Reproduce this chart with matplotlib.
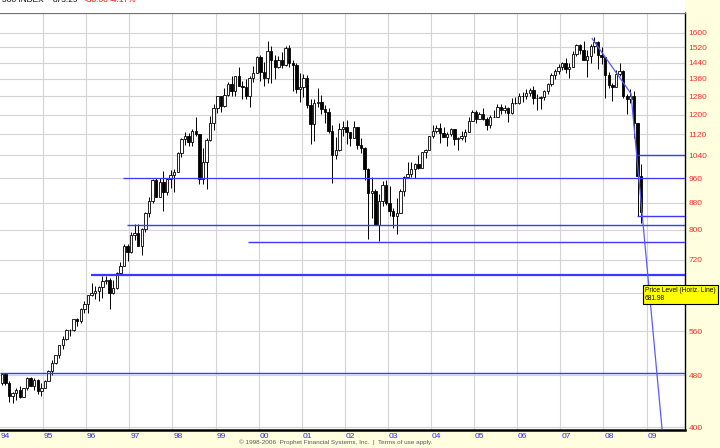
import matplotlib
matplotlib.use("Agg")
import matplotlib.pyplot as plt
from matplotlib.patches import Rectangle
from matplotlib.ticker import FixedLocator, NullLocator
import pandas as pd

# ---------------- data (monthly S&P 500 candles, Jan 1994 - Nov 2008) -------------
months = pd.date_range("1994-01-01", "2008-11-01", freq="MS")

opens = [
    466.5, 481.6, 467.1, 445.8, 450.9, 456.5, 444.3, 458.3, 475.5, 462.7, 472.4, 453.7,
    459.3, 470.4, 487.4, 500.7, 514.7, 533.4, 544.8, 562.1, 561.9, 584.4, 581.5, 605.4,
    615.9, 636.0, 640.4, 645.5, 654.2, 669.1, 670.6, 640.0, 652.0, 687.3, 705.3, 757.0,
    740.7, 786.2, 790.8, 757.1, 801.3, 848.3, 885.1, 954.3, 899.5, 947.3, 914.6, 955.4,
    970.4, 980.3, 1049.3, 1101.8, 1111.8, 1090.8, 1133.8, 1120.7, 957.3, 1017.0, 1098.7, 1163.6,
    1229.2, 1279.6, 1238.3, 1286.4, 1335.2, 1301.8, 1372.7, 1328.7, 1320.4, 1282.7, 1362.9, 1388.9,
    1469.3, 1394.5, 1366.4, 1498.6, 1452.4, 1420.6, 1454.6, 1430.8, 1517.7, 1436.5, 1429.4, 1315.0,
    1320.3, 1366.0, 1239.9, 1160.3, 1249.5, 1255.8, 1224.4, 1211.2, 1133.6, 1040.9, 1059.8, 1139.5,
    1148.1, 1130.2, 1106.7, 1147.4, 1076.9, 1067.1, 989.8, 911.6, 916.1, 815.3, 885.8, 936.3,
    879.8, 855.7, 841.2, 848.2, 916.9, 963.6, 974.5, 990.3, 1008.0, 996.0, 1050.7, 1058.2,
    1111.9, 1131.1, 1144.9, 1126.2, 1107.3, 1120.7, 1140.8, 1101.7, 1104.2, 1114.6, 1130.2, 1173.8,
    1211.9, 1181.3, 1203.6, 1180.6, 1156.9, 1191.5, 1191.3, 1234.2, 1220.3, 1228.8, 1207.0, 1249.5,
    1248.3, 1280.1, 1280.7, 1294.8, 1310.6, 1270.1, 1270.2, 1276.7, 1303.8, 1335.9, 1377.9, 1400.6,
    1418.3, 1438.2, 1406.8, 1420.9, 1482.4, 1530.6, 1503.4, 1455.3, 1474.0, 1526.8, 1549.4, 1481.1,
    1468.4, 1378.6, 1330.6, 1322.7, 1385.6, 1400.4, 1280.0, 1267.4, 1282.8, 1166.4, 968.7,
]
highs = [
    482.9, 482.0, 471.1, 453.1, 459.3, 462.1, 459.3, 477.6, 476.5, 474.8, 474.0, 466.4,
    472.2, 489.2, 507.0, 514.5, 533.4, 551.1, 564.0, 565.0, 586.0, 587.0, 608.0, 623.0,
    636.2, 664.2, 656.0, 656.9, 680.0, 680.3, 675.9, 670.7, 690.9, 714.1, 762.1, 761.8,
    794.7, 817.7, 816.3, 805.0, 851.9, 899.0, 957.7, 961.0, 960.0, 983.1, 961.0, 986.3,
    992.7, 1051.0, 1105.7, 1130.5, 1123.0, 1141.0, 1190.6, 1121.0, 1066.1, 1103.8, 1193.0, 1244.9,
    1280.0, 1281.0, 1316.6, 1346.1, 1375.9, 1375.0, 1420.3, 1351.0, 1358.0, 1373.0, 1424.0, 1473.0,
    1478.0, 1444.6, 1553.1, 1527.2, 1481.5, 1474.6, 1495.5, 1525.2, 1530.1, 1454.8, 1438.5, 1389.1,
    1383.4, 1376.9, 1267.4, 1269.3, 1315.9, 1286.6, 1239.8, 1226.3, 1155.4, 1110.6, 1163.4, 1173.6,
    1176.6, 1130.2, 1173.9, 1147.8, 1106.6, 1070.0, 994.5, 965.0, 924.0, 907.4, 951.6, 954.3,
    935.1, 864.6, 895.9, 924.2, 965.4, 1015.3, 1015.4, 1011.0, 1040.3, 1053.8, 1063.7, 1112.6,
    1155.4, 1158.9, 1163.2, 1150.6, 1127.7, 1146.3, 1140.8, 1109.7, 1131.5, 1142.1, 1188.5, 1217.9,
    1217.8, 1212.4, 1229.1, 1191.9, 1199.6, 1219.6, 1245.2, 1245.9, 1243.1, 1233.3, 1270.6, 1275.8,
    1294.9, 1297.6, 1310.9, 1318.2, 1326.7, 1290.7, 1280.4, 1306.7, 1340.3, 1389.5, 1407.9, 1431.8,
    1441.6, 1461.6, 1438.9, 1498.0, 1535.6, 1540.6, 1555.9, 1503.9, 1538.7, 1576.1, 1552.8, 1523.6,
    1471.8, 1396.0, 1341.5, 1404.6, 1440.2, 1404.1, 1292.2, 1313.2, 1303.0, 1167.0, 1007.5,
]
lows = [
    464.3, 464.3, 436.2, 435.9, 439.8, 442.9, 444.2, 456.0, 461.5, 455.3, 449.1, 445.5,
    459.1, 469.8, 479.7, 499.0, 510.0, 526.0, 543.0, 552.0, 560.0, 570.0, 577.0, 597.0,
    597.3, 633.7, 627.6, 624.0, 630.0, 662.0, 605.9, 639.0, 649.0, 684.0, 703.8, 716.7,
    737.0, 773.0, 756.0, 733.5, 793.2, 836.0, 881.0, 897.0, 899.0, 855.3, 903.0, 926.0,
    912.8, 979.0, 1032.0, 1076.7, 1074.0, 1074.0, 1114.0, 939.9, 939.9, 923.3, 1093.0, 1136.9,
    1205.5, 1211.7, 1234.0, 1282.8, 1281.4, 1279.0, 1328.7, 1268.0, 1268.4, 1233.7, 1346.0, 1387.4,
    1350.1, 1325.1, 1339.4, 1339.4, 1361.1, 1416.0, 1413.9, 1421.0, 1419.4, 1305.8, 1294.9, 1254.1,
    1274.6, 1228.3, 1081.2, 1091.9, 1232.0, 1203.0, 1165.5, 1124.9, 944.8, 1026.8, 1054.3, 1114.5,
    1081.7, 1074.4, 1106.7, 1063.5, 1048.0, 952.9, 775.7, 833.4, 815.3, 768.6, 868.9, 872.1,
    840.3, 806.3, 788.9, 847.9, 902.8, 963.6, 962.1, 960.8, 990.4, 996.0, 1031.2, 1058.2,
    1105.1, 1124.4, 1087.2, 1107.2, 1076.3, 1113.3, 1078.8, 1060.7, 1099.2, 1090.2, 1127.6, 1173.8,
    1163.8, 1180.0, 1176.9, 1136.2, 1146.2, 1188.3, 1191.3, 1201.1, 1205.4, 1168.2, 1201.1, 1246.6,
    1245.7, 1253.6, 1268.4, 1280.7, 1245.3, 1219.3, 1224.5, 1261.3, 1290.9, 1327.1, 1360.0, 1385.9,
    1403.9, 1389.4, 1363.8, 1416.4, 1476.7, 1484.2, 1454.3, 1370.6, 1439.3, 1489.6, 1406.1, 1435.7,
    1270.1, 1316.8, 1256.9, 1322.7, 1373.1, 1272.0, 1200.4, 1248.6, 1106.4, 839.8, 818.7,
]
closes = [
    481.6, 467.1, 445.8, 450.9, 456.5, 444.3, 458.3, 475.5, 462.7, 472.4, 453.7, 459.3,
    470.4, 487.4, 500.7, 514.7, 533.4, 544.8, 562.1, 561.9, 584.4, 581.5, 605.4, 615.9,
    636.0, 640.4, 645.5, 654.2, 669.1, 670.6, 640.0, 652.0, 687.3, 705.3, 757.0, 740.7,
    786.2, 790.8, 757.1, 801.3, 848.3, 885.1, 954.3, 899.5, 947.3, 914.6, 955.4, 970.4,
    980.3, 1049.3, 1101.8, 1111.8, 1090.8, 1133.8, 1120.7, 957.3, 1017.0, 1098.7, 1163.6, 1229.2,
    1279.6, 1238.3, 1286.4, 1335.2, 1301.8, 1372.7, 1328.7, 1320.4, 1282.7, 1362.9, 1388.9, 1469.3,
    1394.5, 1366.4, 1498.6, 1452.4, 1420.6, 1454.6, 1430.8, 1517.7, 1436.5, 1429.4, 1315.0, 1320.3,
    1366.0, 1239.9, 1160.3, 1249.5, 1255.8, 1224.4, 1211.2, 1133.6, 1040.9, 1059.8, 1139.5, 1148.1,
    1130.2, 1106.7, 1147.4, 1076.9, 1067.1, 989.8, 911.6, 916.1, 815.3, 885.8, 936.3, 879.8,
    855.7, 841.2, 848.2, 916.9, 963.6, 974.5, 990.3, 1008.0, 996.0, 1050.7, 1058.2, 1111.9,
    1131.1, 1144.9, 1126.2, 1107.3, 1120.7, 1140.8, 1101.7, 1104.2, 1114.6, 1130.2, 1173.8, 1211.9,
    1181.3, 1203.6, 1180.6, 1156.9, 1191.5, 1191.3, 1234.2, 1220.3, 1228.8, 1207.0, 1249.5, 1248.3,
    1280.1, 1280.7, 1294.8, 1310.6, 1270.1, 1270.2, 1276.7, 1303.8, 1335.9, 1377.9, 1400.6, 1418.3,
    1438.2, 1406.8, 1420.9, 1482.4, 1530.6, 1503.4, 1455.3, 1474.0, 1526.8, 1549.4, 1481.1, 1468.4,
    1378.6, 1330.6, 1322.7, 1385.6, 1400.4, 1280.0, 1267.4, 1282.8, 1166.4, 968.7, 852.3,
]

# horizontal price-level lines: (start year, level)
hline_starts = [1996.85, 2008.78, 2008.78, 1996.95, 1999.75, 1996.11, 1994.0]
hline_levels = [960.0, 1040.0, 840.0, 815.0, 768.0, 681.98, 484.0]
hline_widths = [0.9, 1.0, 1.0, 1.0, 1.0, 1.6, 1.0]

# trend line vertices (year, price)
trend_x = [2007.74, 2008.64, 2009.36]
trend_y = [1567.0, 1292.0, 398.0]

y_ticks = [400, 480, 560, 640, 720, 800, 880, 960, 1040, 1120, 1200, 1280, 1360, 1440, 1520, 1600]
y_labels = ["400", "480", "560", "", "720", "800", "880", "960", "1040", "1120", "1200",
            "1280", "1360", "1440", "1520", "1600"]
x_years = list(range(1994, 2010))
x_labels = ["94", "95", "96", "97", "98", "99", "00", "01", "02", "03", "04", "05", "06", "07", "08", "09"]

header_black = ["S&P 500 INDEX", "873.29"]
header_red = ["-38.00", "-4.17%"]

# ---------------- figure ----------------
W, H = 720, 448
fig = plt.figure(figsize=(W / 100, H / 100), dpi=100, facecolor="#ffffe0")
plt.rcParams["font.family"] = ["Liberation Sans", "DejaVu Sans"]

ax_left, ax_right, ax_top, ax_bottom = 0, 685, 13, 430
ax = fig.add_axes([ax_left / W, 1 - ax_bottom / H, (ax_right - ax_left) / W, (ax_bottom - ax_top) / H])
ax.set_facecolor("white")

# white header strip with the (mostly cut-off) quote line
fig.patches.append(Rectangle((0, 1 - ax_top / H), ax_right / W, ax_top / H,
                             transform=fig.transFigure, facecolor="white", edgecolor="none", zorder=0))
hy = 1 - 2.5 / H
fig.text(44 / W, hy, header_black[0], fontsize=6, color="black", va="baseline", ha="right")
fig.text(53 / W, hy, header_black[1], fontsize=6, color="black", va="baseline", ha="left")
fig.text(85 / W, hy, header_red[0], fontsize=6, color="red", va="baseline", ha="left")
fig.text(110 / W, hy, header_red[1], fontsize=6, color="red", va="baseline", ha="left")

ax.set_yscale("log")
ax.set_ylim(396, 1715)
ax.set_xlim(1994.0, 1994 + 685 / 43.1)

# grid
for yv in y_ticks:
    ax.axhline(yv, color="#d4d4d4", lw=0.8, zorder=0)
for xv in x_years[1:]:
    ax.axvline(xv, color="#d4d4d4", lw=0.8, zorder=0)

# candles
xs = [m.year + (m.month - 0.5) / 12 for m in months]
body_w = 0.056
for x, o, h, l, c in zip(xs, opens, highs, lows, closes):
    ax.vlines(x, l, h, color="black", lw=0.7, zorder=2)
    up = c >= o
    lo, hi = (o, c) if up else (c, o)
    if hi - lo < 0.5:
        hi = lo + 0.5
    ax.add_patch(Rectangle((x - body_w / 2, lo), body_w, hi - lo,
                           facecolor="white" if up else "black", edgecolor="black", lw=0.6, zorder=3))

# price level lines
x_end = ax.get_xlim()[1]
for xs0, lvl, lw in zip(hline_starts, hline_levels, hline_widths):
    ax.plot([xs0, x_end], [lvl, lvl], color="#3a3aff", lw=lw, zorder=4, solid_capstyle="butt")

ax.plot(trend_x, trend_y, color="#5a5aff", lw=0.9, zorder=4)

# axes styling
ax.spines["left"].set_visible(False)
ax.spines["top"].set_color("#707070")
ax.spines["top"].set_linewidth(1.6)
ax.spines["right"].set_color("black")
ax.spines["right"].set_linewidth(1.0)
ax.spines["bottom"].set_color("black")
ax.spines["bottom"].set_linewidth(1.8)

ax.yaxis.tick_right()
ax.yaxis.set_major_locator(FixedLocator(y_ticks))
ax.yaxis.set_minor_locator(NullLocator())
ax.set_yticklabels(y_labels)
ax.tick_params(axis="y", length=0, pad=2.5, labelsize=6, labelcolor="#ff2a2a")

ax.set_xticks([yr + 0.02 for yr in x_years])
ax.set_xticklabels(x_labels)
ax.tick_params(axis="x", length=0, pad=2.5, labelsize=6, labelcolor="#2a2aff")
for lab in ax.get_xticklabels():
    lab.set_horizontalalignment("left")

# price level label box
fig.text(645 / W, 1 - 287 / H, "Price Level (Horiz. Line)\n681.98", fontsize=4.8, color="black",
         va="top", ha="left", linespacing=1.1, zorder=20,
         bbox=dict(boxstyle="square,pad=0.35", facecolor="#ffff00", edgecolor="black", lw=0.8))

fig.text(336 / W, 1 - 442 / H, "\u00a9 1998-2006  Prophet Financial Systems, Inc.  |  Terms of use apply.",
         fontsize=4.6, color="#555555", ha="center", va="center")

fig.savefig("out.png", dpi=100, facecolor=fig.get_facecolor())
